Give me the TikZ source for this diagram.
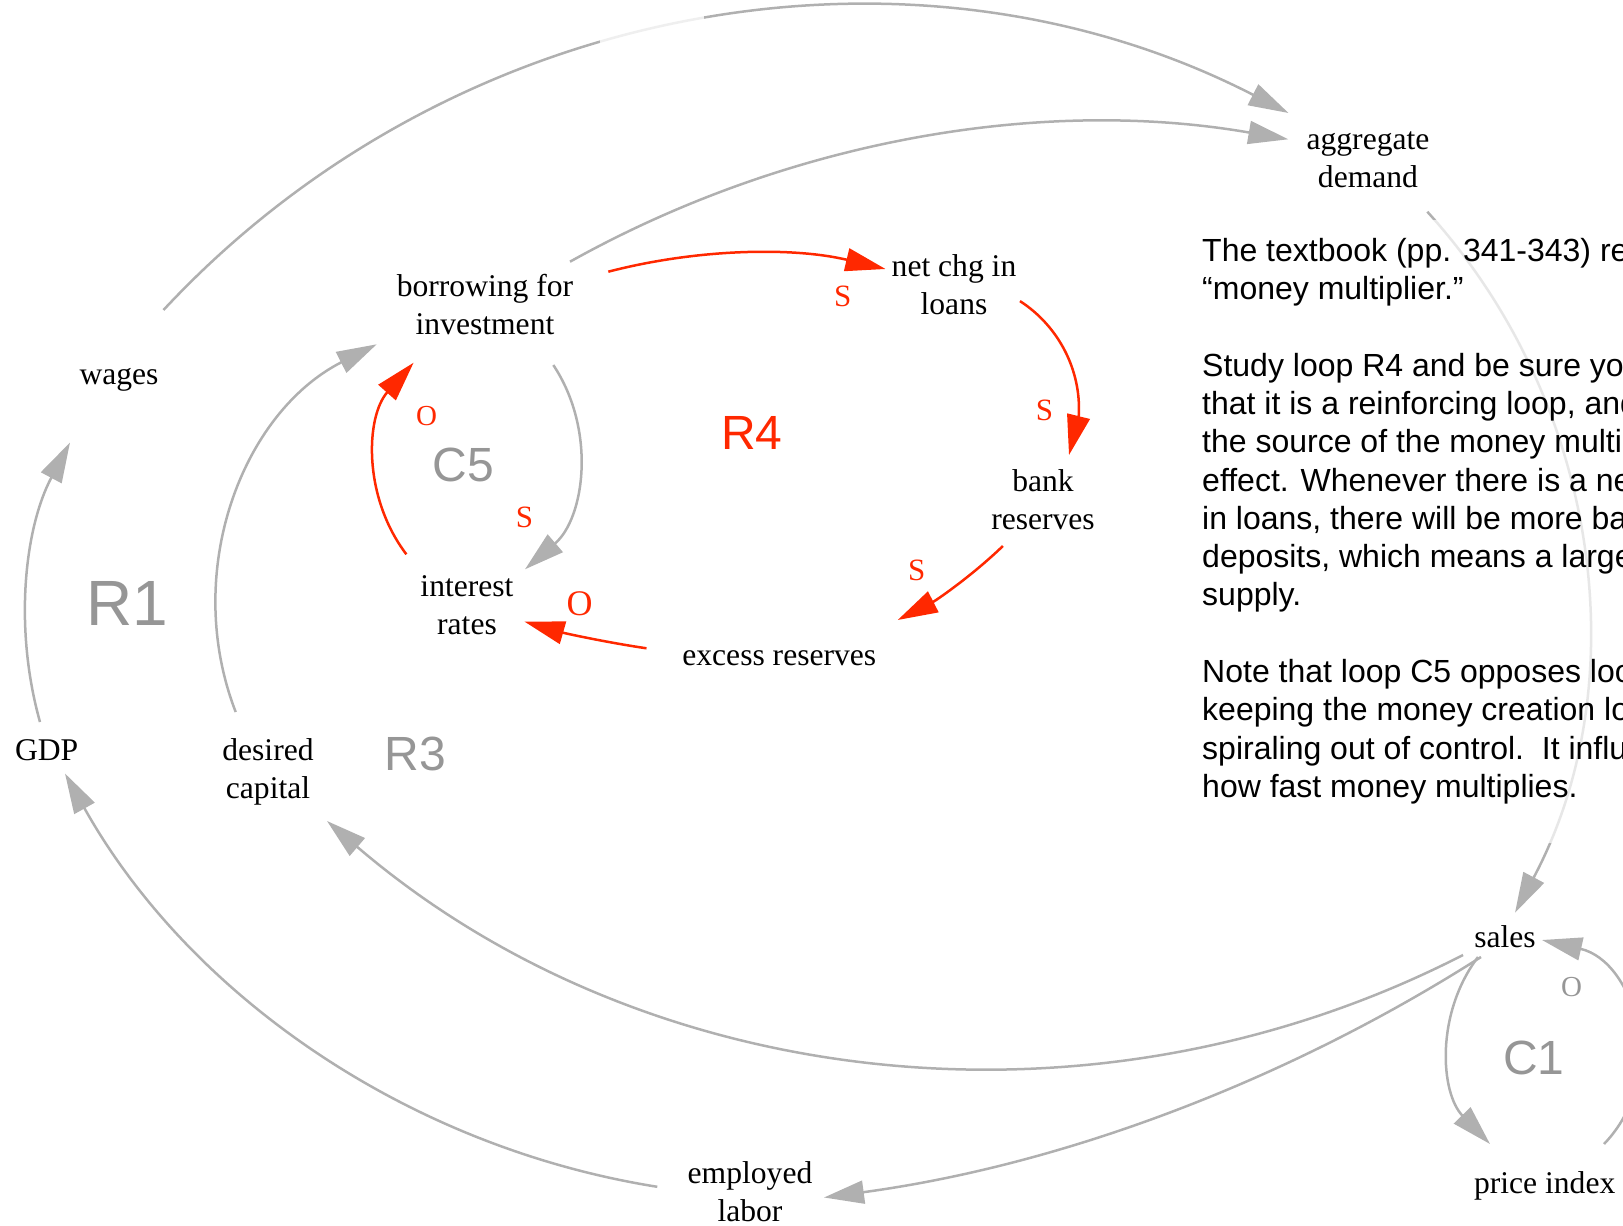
\documentclass[tikz,border=0pt]{standalone}
\usepackage{fontspec}
\setmainfont{Liberation Serif}
\newfontfamily\labelsans{Liberation Sans}
\usetikzlibrary{arrows.meta}
\definecolor{linkgray}{RGB}{176,176,176}
\definecolor{loopgray}{RGB}{150,150,150}
\definecolor{linkred}{RGB}{255,40,0}
\begin{document}
\begin{tikzpicture}[x=1pt,y=-1pt,
  var/.style={inner sep=0pt, align=center, font=\fontsize{31.6}{38}\selectfont},
  pol/.style={inner sep=0pt, font=\fontsize{31}{36}\selectfont},
  polsmall/.style={inner sep=0pt, font=\fontsize{29}{34}\selectfont},
  polbig/.style={inner sep=0pt, font=\fontsize{36}{40}\selectfont},
  looplabel/.style={inner sep=0pt, text=loopgray, font=\labelsans\fontsize{48}{56}\selectfont},
  glink/.style={draw=linkgray, line width=2.5pt, -{Triangle[length=40pt,width=23pt]}},
  rlink/.style={draw=linkred, line width=2.5pt, -{Triangle[length=40pt,width=23pt]}},
]
\useasboundingbox (0,0) rectangle (1623,1226);
\clip (0,0) rectangle (1623,1226);

% variables
\node[var] (ad)    at (1368,160.7)  {aggregate\strut\\demand\strut};
\node[var] (bor)   at (485,308.1)   {borrowing for\strut\\investment\strut};
\node[var] (net)   at (954,288.1)   {net chg in\strut\\loans\strut};
\node[var] (bank)  at (1043,503.1)  {bank\strut\\reserves\strut};
\node[var] (exc)   at (779.3,657.4) {excess reserves\strut};
\node[var] (int)   at (467,608.1)   {interest\strut\\rates\strut};
\node[var] (wages) at (119,376.4)   {wages\strut};
\node[var] (gdp)   at (46.7,752.9)  {GDP\strut};
\node[var] (des)   at (268,771.4)   {desired\strut\\capital\strut};
\node[var] (emp)   at (750,1194.4)  {employed\strut\\labor\strut};
\node[var] (sales) at (1505,939.7)  {sales\strut};
\node[var] (price) at (1544.7,1185.7) {price index\strut};

% gray links
\draw[glink] ([shift={(44.5,-66.4)}]wages.center) .. controls (452.1,-0.1) and (911.7,-80.6) .. ([shift={(-79.5,-47.7)}]ad.center);
\draw[glink] ([shift={(85,-46.4)}]bor.center) .. controls (788.4,139.8) and (1041.9,96.6) .. ([shift={(-79.7,-21.4)}]ad.center);
\draw[glink] ([shift={(-6.7,-30.9)}]gdp.center) .. controls (13.7,628.4) and (24.4,528.3) .. ([shift={(-49,66.1)}]wages.center);
\draw[glink] ([shift={(-32.3,-59.4)}]des.center) .. controls (181.4,571.4) and (242.4,412.6) .. ([shift={(-108.3,36.2)}]bor.center);
\draw[glink] ([shift={(-42,15.3)}]sales.center) .. controls (1092.3,1145.1) and (643.4,1092) .. ([shift={(59,49.6)}]des.center);
\draw[glink] ([shift={(-24,17.3)}]sales.center) .. controls (1281.9,1083.9) and (1058,1165.9) .. ([shift={(74,3.1)}]emp.center);
\draw[glink] ([shift={(-92.7,-7.6)}]emp.center) .. controls (406.9,1146.9) and (188.8,994.7) .. ([shift={(18.3,20.6)}]gdp.center);
\draw[glink] ([shift={(59.3,51)}]ad.center) .. controls (1601.5,403.5) and (1636.6,683.9) .. ([shift={(10,-27)}]sales.center);
\draw[glink] ([shift={(-27,17.3)}]sales.center) .. controls (1435.1,1013.7) and (1440.4,1093) .. ([shift={(-54.7,-41.7)}]price.center);
\draw[glink] ([shift={(59.3,-41.7)}]price.center) .. controls (1670,1075.7) and (1634.6,961.2) .. ([shift={(37,0.3)}]sales.center);
\draw[glink] ([shift={(68.3,56.9)}]bor.center) .. controls (596.8,430.5) and (584.6,518.1) .. ([shift={(58,-38.8)}]int.center);

% red links of the money loop
\draw[rlink] ([shift={(123.3,-36.4)}]bor.center) .. controls (699.1,248.1) and (794.3,247.2) .. ([shift={(-68.5,-19.1)}]net.center);
\draw[rlink] ([shift={(66,13)}]net.center) .. controls (1058.7,326.2) and (1081.2,370.1) .. (1078.8,415.2) -- ([shift={(26,-48.1)}]bank.center);
\draw[rlink] ([shift={(-40.1,42.9)}]bank.center) .. controls (971.9,575.9) and (936.1,600.4) .. ([shift={(118.4,-37.4)}]exc.center);
\draw[rlink] ([shift={(-132.8,-9.1)}]exc.center) .. controls (605.4,642.2) and (564.6,633.2) .. ([shift={(57.6,13.6)}]int.center);
\draw[rlink] ([shift={(-60.6,-53.8)}]int.center) .. controls (362.6,496.9) and (365.6,416.6) .. ([shift={(-71.4,54.6)}]bor.center);

% link polarities
\node[pol, text=linkred] (s1) at (842.7,296) {S};
\node[pol, text=linkred] (s2) at (1044.5,410) {S};
\node[pol, text=linkred] (s3) at (916.8,570.7) {S};
\node[pol, text=linkred] (s4) at (524.6,517.7) {S};
\node[polbig, text=linkred] (o1) at (579.6,603.3) {O};
\node[polsmall, text=linkred] (o2) at (426.5,416) {O};
\node[polsmall, text=loopgray] (o3) at (1571.7,986.7) {O};

% loop identifiers
\node[looplabel, font=\labelsans\fontsize{64}{70}\selectfont] (r1) at (127.5,603) {R1};
\node[looplabel] (r3) at (415.3,753.8) {R3};
\node[looplabel, text=linkred] (r4) at (751.8,433.3) {R4};
\node[looplabel] (c5) at (463.3,465) {C5};
\node[looplabel] (c1) at (1534,1057.5) {C1};

% translucent backing of the comment and of a hidden box on the top arc
\fill[white, opacity=0.8] (600,14) rectangle (704,52);
\fill[white, opacity=0.7] (1190,220) rectangle (1623,843);

% comment
\node[anchor=north west, inner sep=0pt, align=left,
      font=\labelsans\fontsize{32}{38.3}\selectfont] (note) at (1202,234.2)
  {\strut The textbook (pp. 341-343) refers to the\\
   \strut “money multiplier.”\\
   \strut\\
   \strut Study loop R4 and be sure you\\
   \strut that it is a reinforcing loop, and\\
   \strut the source of the money multiplier\\
   \strut effect. Whenever there is a net\\
   \strut in loans, there will be more bank\\
   \strut deposits, which means a larger\\
   \strut supply.\\
   \strut\\
   \strut Note that loop C5 opposes loop\\
   \strut keeping the money creation loop\\
   \strut spiraling out of control.\ \ It influences\\
   \strut how fast money multiplies.};
\end{tikzpicture}
\end{document}
